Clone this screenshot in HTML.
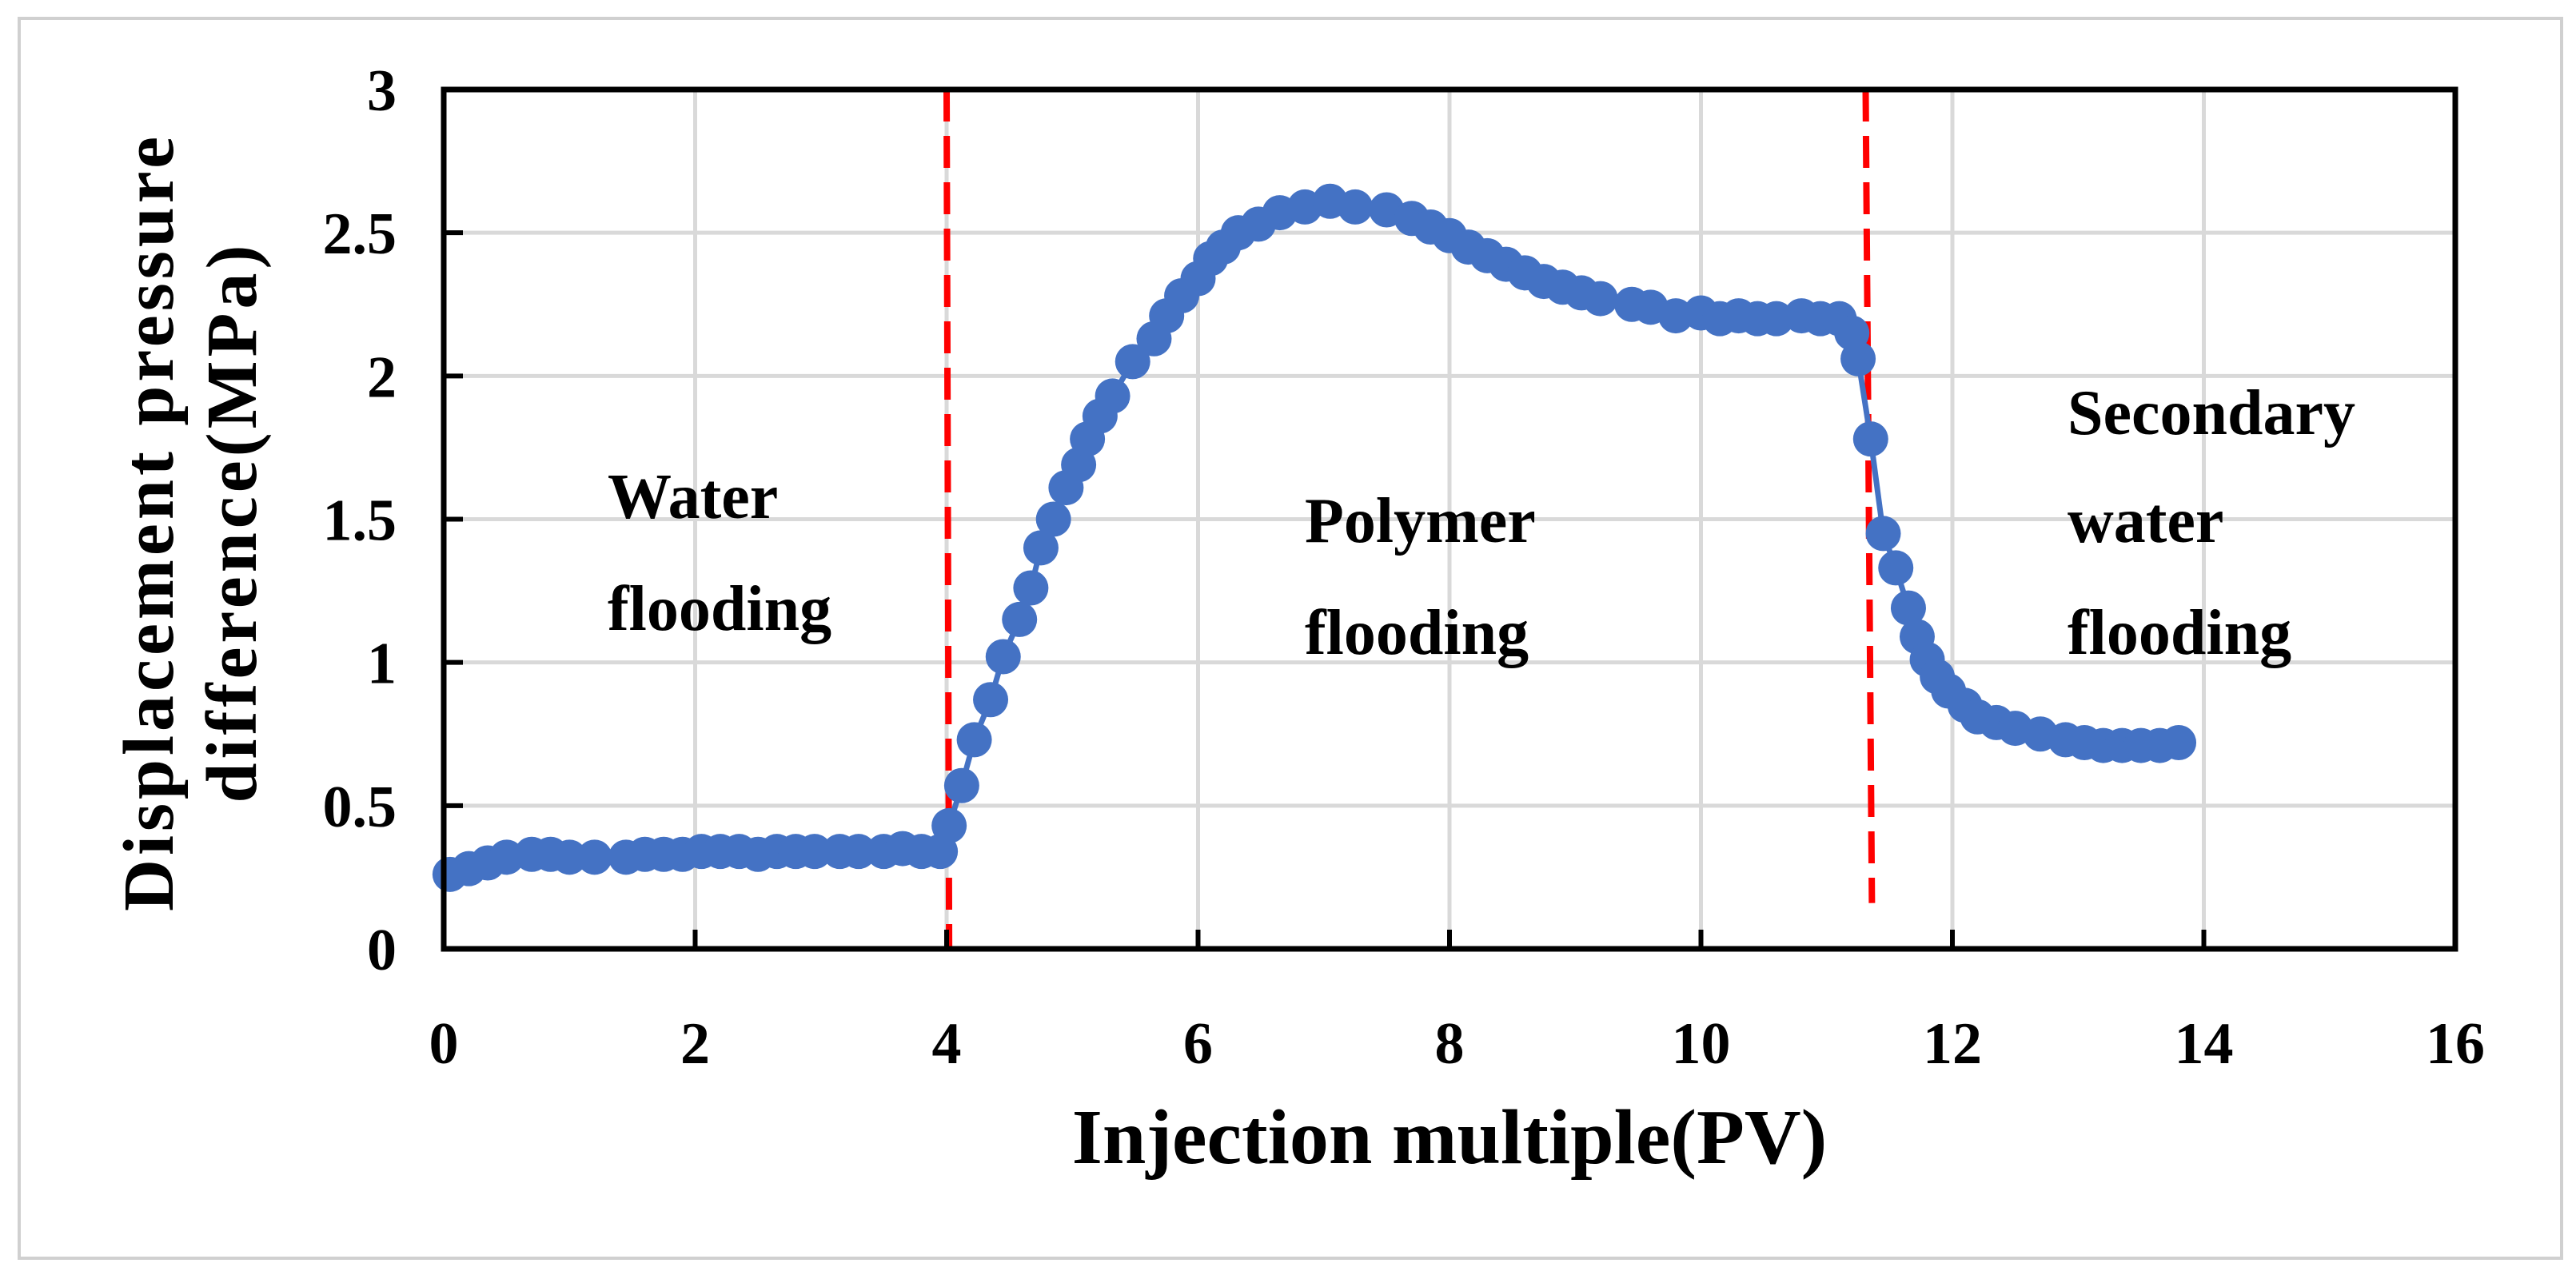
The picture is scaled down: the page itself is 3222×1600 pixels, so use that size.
<!DOCTYPE html>
<html><head><meta charset="utf-8"><style>
body{margin:0;background:#fff}
svg{display:block;font-family:"Liberation Serif",serif;font-weight:bold}
</style></head><body>
<svg id="chart" width="3222" height="1600" viewBox="0 0 3222 1600" xmlns="http://www.w3.org/2000/svg">
<rect x="24" y="23" width="3180" height="1551" fill="#fff" stroke="#d0d0d0" stroke-width="4"/>
<g id="grid"></g><g id="refs"></g><g id="series"></g><g id="axes"></g><g id="labels"></g>
<text x="1813" y="1455" font-size="98" text-anchor="middle">Injection multiple(PV)</text>
<g transform="translate(238,653) rotate(-90)"><text x="0" y="-22" font-size="90" text-anchor="middle" letter-spacing="5">Displacement pressure</text><text x="0" y="82" font-size="90" text-anchor="middle" letter-spacing="5">difference(MPa)</text></g>
<text font-size="80"><tspan x="760" y="648">Water</tspan><tspan x="760" y="788">flooding</tspan></text>
<text font-size="80"><tspan x="1632" y="678">Polymer</tspan><tspan x="1632" y="818">flooding</tspan></text>
<text font-size="80"><tspan x="2586" y="543">Secondary</tspan><tspan x="2586" y="678">water</tspan><tspan x="2586" y="818">flooding</tspan></text>
</svg>
<script>
const xs=[0.05,0.2,0.35,0.5,0.7,0.85,1.0,1.2,1.45,1.6,1.75,1.9,2.05,2.2,2.35,2.5,2.65,2.8,2.95,3.15,3.3,3.5,3.65,3.8,3.95,4.02,4.12,4.22,4.35,4.45,4.58,4.67,4.75,4.85,4.95,5.05,5.12,5.22,5.32,5.48,5.65,5.75,5.87,6.0,6.1,6.2,6.32,6.48,6.65,6.85,7.05,7.25,7.5,7.7,7.85,8.0,8.15,8.3,8.45,8.6,8.75,8.9,9.05,9.2,9.45,9.6,9.8,10.0,10.15,10.3,10.45,10.6,10.8,10.95,11.1,11.2,11.25,11.35,11.45,11.55,11.65,11.72,11.8,11.88,11.97,12.1,12.2,12.35,12.5,12.7,12.9,13.05,13.2,13.35,13.5,13.65,13.8];
const ys=[0.26,0.28,0.30,0.32,0.33,0.33,0.32,0.32,0.32,0.33,0.33,0.33,0.34,0.34,0.34,0.33,0.34,0.34,0.34,0.34,0.34,0.34,0.35,0.34,0.34,0.43,0.57,0.73,0.87,1.02,1.15,1.26,1.40,1.50,1.61,1.69,1.78,1.86,1.93,2.05,2.13,2.21,2.28,2.34,2.41,2.45,2.50,2.53,2.57,2.59,2.61,2.59,2.58,2.55,2.52,2.49,2.45,2.42,2.39,2.36,2.33,2.31,2.29,2.27,2.25,2.24,2.21,2.22,2.20,2.21,2.20,2.20,2.21,2.20,2.20,2.15,2.06,1.78,1.45,1.33,1.19,1.09,1.01,0.95,0.90,0.85,0.81,0.79,0.77,0.75,0.73,0.72,0.71,0.71,0.71,0.71,0.72];
const xTicks=[0,2,4,6,8,10,12,14,16];
const yTicks=[0,0.5,1,1.5,2,2.5,3];
const xTickLabels=["0","2","4","6","8","10","12","14","16"];
const yTickLabels=["0","0.5","1","1.5","2","2.5","3"];
const refX1=[4.0,4.02];const refX2=[11.31,11.36];const refYEnd=[3,0,0.16];
const L=555,R=3071,T=112,B=1187;
const X=v=>L+(R-L)*v/16, Y=v=>B-(B-T)*v/3;
const NS="http://www.w3.org/2000/svg";
function mk(p,t,a){const e=document.createElementNS(NS,t);for(const k in a)e.setAttribute(k,a[k]);document.getElementById(p).appendChild(e);return e;}
xTicks.forEach((v,i)=>{if(i>0&&i<xTicks.length-1){const g=mk('grid','line',{x1:X(v),x2:X(v),y1:T,y2:B,stroke:'#d9d9d9','stroke-width':5});

}
const tk=mk('axes','line',{x1:X(v),x2:X(v),y1:B,y2:B-24,stroke:'#000','stroke-width':6});


const t=mk('labels','text',{x:X(v),y:1330,'font-size':74,'text-anchor':'middle'});t.textContent=xTickLabels[i];

});
yTicks.forEach((v,i)=>{if(i>0&&i<yTicks.length-1){const g=mk('grid','line',{x1:L,x2:R,y1:Y(v),y2:Y(v),stroke:'#d9d9d9','stroke-width':5});

}
const tk=mk('axes','line',{x1:L,x2:L+24,y1:Y(v),y2:Y(v),stroke:'#000','stroke-width':6});


const t=mk('labels','text',{x:496,y:Y(v)+26,'font-size':74,'text-anchor':'end'});t.textContent=yTickLabels[i];

});
const box=mk('axes','rect',{x:L,y:T,width:R-L,height:B-T,fill:'none',stroke:'#000','stroke-width':7});


const r1=mk('refs','line',{x1:X(refX1[0]),y1:Y(refYEnd[0]),x2:X(refX1[1]),y2:Y(refYEnd[1]),stroke:'#ff0000','stroke-width':8,'stroke-dasharray':'40 18'});


const r2=mk('refs','line',{x1:X(refX2[0]),y1:Y(refYEnd[0]),x2:X(refX2[1]),y2:Y(refYEnd[2]),stroke:'#ff0000','stroke-width':8,'stroke-dasharray':'40 18'});


const pl=mk('series','polyline',{points:xs.map((x,i)=>X(x)+','+Y(ys[i])).join(' '),fill:'none',stroke:'#4472c4','stroke-width':7});


xs.forEach((x,i)=>{const c=mk('series','circle',{cx:X(x),cy:Y(ys[i]),r:22,fill:'#4472c4'});

});
</script>
</body></html>
